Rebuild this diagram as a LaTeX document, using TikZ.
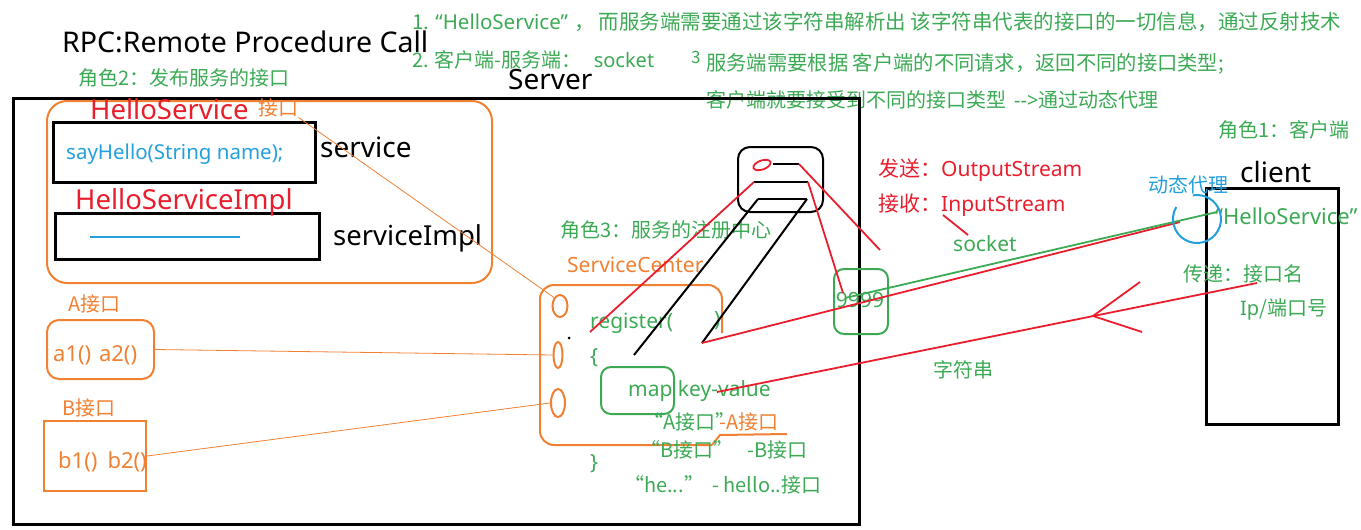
\documentclass[tikz,border=0pt]{standalone}
\usepackage{fontspec}
\setmainfont{Noto Sans CJK SC}
\newfontfamily\lat{Noto Sans}
\usetikzlibrary{shapes.geometric}
\definecolor{noteGreen}{RGB}{60,170,85}
\definecolor{penRed}{RGB}{232,30,45}
\definecolor{penOrange}{RGB}{240,128,50}
\definecolor{penBlue}{RGB}{35,160,220}
\begin{document}
\begin{tikzpicture}[x=1pt, y=-1pt,
    every node/.style={inner sep=0pt, anchor=west},
    note/.style={text=noteGreen, font=\fontsize{20}{22}\selectfont},
    gcode/.style={text=noteGreen, font=\lat\fontsize{21}{23}\selectfont},
    redtxt/.style={text=penRed, font=\fontsize{21}{23}\selectfont},
    orgtxt/.style={text=penOrange, font=\fontsize{20}{22}\selectfont},
    bigtxt/.style={font=\lat\fontsize{28}{30}\selectfont},
    frame/.style={draw=black, line width=2.5pt, anchor=north west},
    obox/.style={draw=penOrange, line width=2pt},
    gbox/.style={draw=noteGreen, line width=2pt, rounded corners=10pt, anchor=north west},
    ring/.style={ellipse, draw=penOrange, line width=2pt, anchor=center},
    thin/.style={draw=penOrange, line width=0.8pt},
    pen/.style={draw=penRed, line width=1.8pt},
    ink/.style={draw=black, line width=2pt}]
\useasboundingbox (0,0) rectangle (1361,530);

% notes on top
\node[bigtxt, font=\lat\fontsize{28.5}{31}\selectfont] (title) at (62,42) {RPC:Remote Procedure Call};
\node[note, font=\fontsize{20.5}{22}\selectfont] (note1) at (412,22) {1. {\lat “HelloService”}\hspace{6pt}，\hspace{4pt}而服务端需要通过该字符串解析出 该字符串代表的接口的一切信息，通过反射技术};
\node[note] (note2) at (412,60) {2. 客户端-服务端：\hspace{12pt}{\lat socket}};
\node[note, font=\fontsize{17}{19}\selectfont] (note3) at (691,57) {3};
\node[note, font=\fontsize{20.3}{22}\selectfont] (note3a) at (706,64) {服务端需要根据 客户端的不同请求，返回不同的接口类型;};
\node[note] (note3b) at (706,100) {客户端就要接受到不同的接口类型\hspace{8pt}{\lat -{}->}通过动态代理};
\node[note] (role2) at (78,78) {角色2：发布服务的接口};
\node[bigtxt] (serverLbl) at (508,80) {Server};

% server side
\node[frame, minimum width=846, minimum height=426] (serverBox) at (12,97) {};
\node[obox, rounded corners=20pt, minimum width=445, minimum height=182, anchor=north west] (pubBox) at (46,100) {};
\node[frame, minimum width=262, minimum height=60] (svcBox) at (52,121) {};
\node[frame, minimum width=264, minimum height=46] (implBox) at (54,212) {};
\node[text=penRed, font=\lat\fontsize{27.5}{30}\selectfont] (helloSvc) at (90,109) {HelloService};
\node[orgtxt] (ifaceTag) at (258,108) {接口};
\node[text=penBlue, font=\lat\fontsize{20.5}{22}\selectfont] (sayHello) at (66,154) {sayHello(String name);};
\node[bigtxt] (svcLbl) at (320,147) {service};
\node[text=penRed, font=\lat\fontsize{27.5}{30}\selectfont] (helloImpl) at (75,202) {HelloServiceImpl};
\draw[penBlue, line width=2pt] (90,237) -- (240,237);
\node[bigtxt, font=\lat\fontsize{27.5}{30}\selectfont] (implLbl) at (333,238) {serviceImpl};

\node[orgtxt] (aLbl) at (68,304) {A接口};
\node[obox, rounded corners=12pt, minimum width=107, minimum height=59, anchor=north west] (aBox) at (46,319) {};
\node[orgtxt, font=\lat\fontsize{22}{24}\selectfont] (aText) at (53,355) {a1()\hspace{2pt} a2()};
\node[orgtxt] (bLbl) at (62,408) {B接口};
\node[obox, minimum width=102, minimum height=70, anchor=north west] (bBox) at (43,420) {};
\node[orgtxt, font=\lat\fontsize{22}{24}\selectfont] (bText) at (58,462) {b1()\hspace{10pt}b2()};

% service center
\node[note] (role3) at (560,230) {角色3：服务的注册中心};
\node[orgtxt, font=\lat\fontsize{21}{23}\selectfont] (centerLbl) at (567,265) {ServiceCenter};
\draw[obox, rounded corners=14pt] (722,333) -- (722,285) -- (540,285) -- (540,445) -- (712,445);
\draw[obox] (712,445) -- (720,435) -- (787,434);
\node[ring, minimum width=15, minimum height=22] (c1) at (560,306) {};
\node[ring, minimum width=9, minimum height=26] (c2) at (558,355) {};
\node[ring, minimum width=14, minimum height=28] (c3) at (558,403) {};
\fill (569,338) circle (1.5pt);
\draw[thin] (ifaceTag.south east) -- (c1.north west);
\draw[thin] (aBox.east) -- (c2.west);
\draw[thin] (bBox.east) -- (c3.west);

\node[gcode] (reg) at (590,323) {register(};
\node[gcode] (regClose) at (714,321) {)};
\node[gcode] (brOpen) at (590,358) {\{};
\node[gbox, minimum width=73, minimum height=47] (mapBox) at (600,366) {};
\node[gcode] (mapKv) at (628,391) {map key-value};
\node[note] (keyA) at (643,422) {“A接口”};
\node[orgtxt] (valA) at (719,422) {-A接口};
\node[note] (keyB) at (640,450) {“B接口”\hspace{14pt}-B接口};
\node[gcode] (brClose) at (590,464) {\}};
\node[note] (keyHe) at (624,485) {“he...”\hspace{8pt}- hello..接口};

% socket
\node[draw, line width=2pt, rounded corners=12pt, minimum width=85, minimum height=65, anchor=north west] (sock) at (737,146) {};
\node[ellipse, draw=penRed, line width=1.8pt, minimum width=18, minimum height=9, rotate=20, anchor=center] (port) at (762,165) {};
\coordinate (s1a) at (773,164); \coordinate (s1b) at (799,164);
\coordinate (s2a) at (754,182); \coordinate (s2b) at (808,182);
\coordinate (s3a) at (758,199); \coordinate (s3b) at (807,199);
\coordinate (regL) at (634,355); \coordinate (regR) at (702,343);
\coordinate (regIn) at (590,332); \coordinate (sockOut) at (880,250);
\coordinate (portIn) at (843,293); \coordinate (kvEnd) at (717,392);
\draw[ink] (s1a) -- (s1b) (s2a) -- (s2b) (s3a) -- (s3b);
\draw[ink] (s3a) -- (regL) (s3b) -- (regR);
\node[gbox, minimum width=54, minimum height=65] (portBox) at (833,268) {};
\node[gcode, anchor=center] (portNo) at (860,300) {9999};

% client side
\node[redtxt] (sendLbl) at (878,170) {发送：{\lat OutputStream}};
\node[redtxt] (recvLbl) at (878,205) {接收：{\lat InputStream}};
\node[gcode] (sockLbl) at (953,244) {socket};
\node[note] (role1) at (1218,130) {角色1：客户端};
\node[bigtxt] (clientLbl) at (1240,172) {client};
\node[frame, minimum width=132, minimum height=236] (clientBox) at (1205,187) {};
\node[note, text=penBlue] (proxyLbl) at (1148,185) {动态代理};
\node[gcode, font=\lat\fontsize{22}{24}\selectfont] (hsName) at (1215,216) {“HelloService”};
\node[note] (passLbl) at (1183,274) {传递：接口名};
\node[note] (ipLbl) at (1240,310) {{\lat Ip}/端口号};
\node[note] (strLbl) at (933,370) {字符串};
\coordinate (proxy) at (1197,219);
\coordinate (hsL) at (1180,222); \coordinate (hsG) at (1217,212);
\coordinate (greenIn) at (845,298); \coordinate (passEnd) at (1257,283);
\coordinate (tip) at (1093,316);
\coordinate (recvA) at (943,215); \coordinate (recvB) at (968,235);

% connections
\draw[pen] (s2a) -- (regIn);
\draw[pen] (s1b) -- (sockOut);
\draw[pen] (s2b) -- (portIn);
\draw[pen] (regR) -- (hsL);
\draw[draw=noteGreen, line width=1.8pt] (greenIn) -- (hsG);
\draw[pen] (kvEnd) -- (passEnd);
\draw[pen] (1140,282) -- (tip) -- (1142,332);
\draw[pen] (recvA) -- (recvB);
\draw[penBlue, line width=2pt] (proxy) ++(150:24pt) arc[start angle=150, end angle=460, radius=24pt];
\end{tikzpicture}
\end{document}
